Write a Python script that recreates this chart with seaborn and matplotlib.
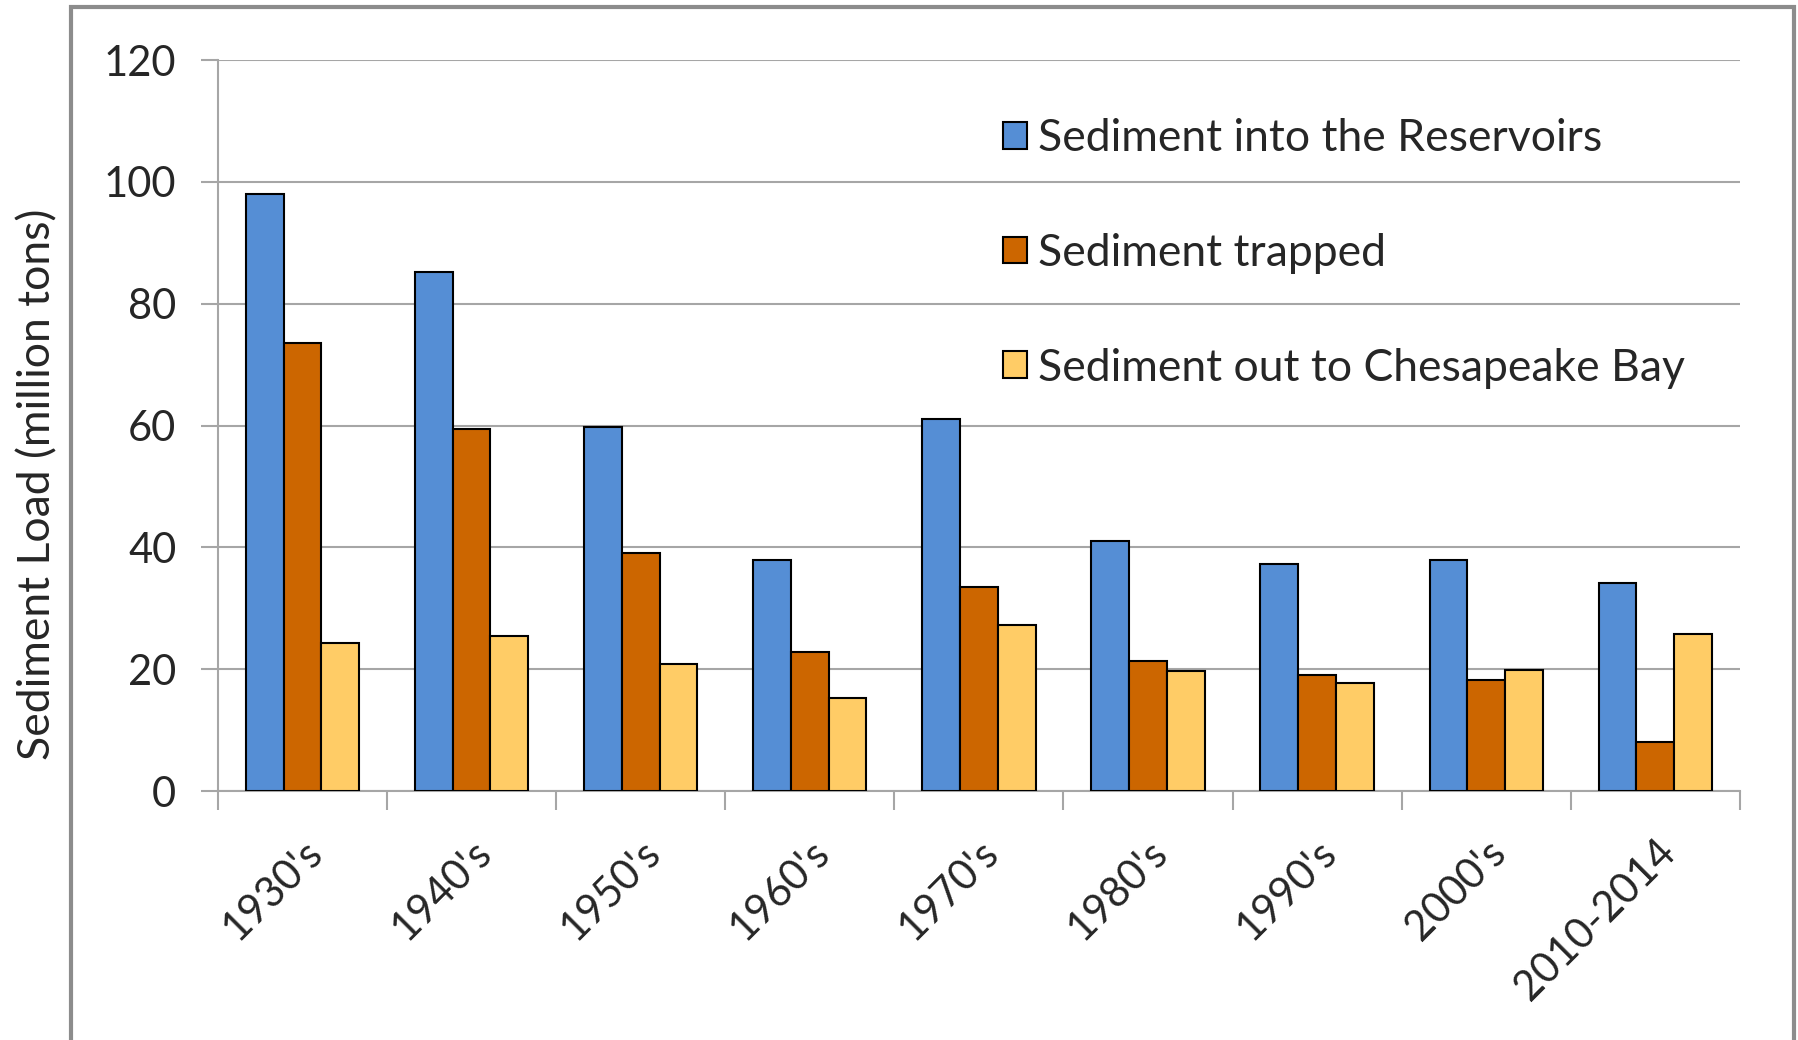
import pandas as pd
import numpy as np
import matplotlib.pyplot as plt
import seaborn as sns
from matplotlib.patches import Rectangle

# Datos
decadas = ["1930's", "1940's", "1950's", "1960's", "1970's", "1980's", "1990's", "2000's", "2010-2014"]
sed_entrada = [98, 85.2, 59.8, 38, 61, 41, 37.2, 38, 34.2]
sed_atrapado = [73.5, 59.5, 39, 22.8, 33.5, 21.3, 19, 18.3, 8]
sed_salida = [24.3, 25.4, 20.9, 15.2, 27.3, 19.7, 17.8, 19.8, 25.8]

series = ['Sediment into the Reservoirs', 'Sediment trapped', 'Sediment out to Chesapeake Bay']
colores = ['#558ED5', '#CC6600', '#FFCC66']

df = pd.DataFrame({'decada': decadas,
                   series[0]: sed_entrada,
                   series[1]: sed_atrapado,
                   series[2]: sed_salida})
df_long = df.melt(id_vars='decada', var_name='serie', value_name='carga')

sns.set_style('white')
plt.rcParams['font.family'] = ['Lato', 'DejaVu Sans']

fig = plt.figure(figsize=(17.98, 10.4), dpi=100)
ax = fig.add_axes([0.1212, 0.2394, 0.8465, 0.7029])

sns.barplot(data=df_long, x='decada', y='carga', hue='serie', palette=colores, saturation=1,
            width=0.67, gap=0, edgecolor='black', linewidth=1.5, ax=ax, zorder=3)

# Ejes y rejilla estilo Excel
ax.set_ylim(0, 120)
ax.set_yticks(range(0, 121, 20))
ax.set_xlim(-0.5, len(decadas) - 0.5)
ax.yaxis.grid(True, color='#A6A6A6', linewidth=1.5, zorder=0)
for lado in ['top', 'right']:
    ax.spines[lado].set_visible(False)
for lado in ['left', 'bottom']:
    ax.spines[lado].set_color('#A6A6A6')
    ax.spines[lado].set_linewidth(1.5)

ax.set_xticks(np.arange(-0.5, len(decadas), 1), minor=True)
ax.tick_params(axis='x', which='minor', length=14, width=1.5, color='#A6A6A6', bottom=True)
ax.tick_params(axis='x', which='major', length=0, pad=30, labelsize=30)
ax.tick_params(axis='y', length=12, width=1.5, color='#A6A6A6', left=True, labelsize=30, pad=18)
ax.set_xticks(range(len(decadas)))
ax.set_xticklabels(decadas, rotation=45, ha='right', rotation_mode='anchor')

ax.set_xlabel('')
ax.set_ylabel('Sediment Load (million tons)', fontsize=32)
ax.yaxis.set_label_coords(-0.105, 0.42)

# Leyenda
leg = ax.legend(loc='upper left', bbox_to_anchor=(0.5355, 0.925), bbox_transform=fig.transFigure,
                frameon=False, fontsize=32, handlelength=0.55, handleheight=0.55,
                handletextpad=0.25, labelspacing=1.66)
for h in leg.legend_handles:
    h.set_edgecolor('black')
    h.set_linewidth(1.5)

# Borde gris del grafico
fig.patches.append(Rectangle((0.0395, -0.05), 0.958, 1.043, transform=fig.transFigure,
                             fill=False, edgecolor='#8C8C8C', linewidth=3))

fig.savefig('out.png', dpi=100)
